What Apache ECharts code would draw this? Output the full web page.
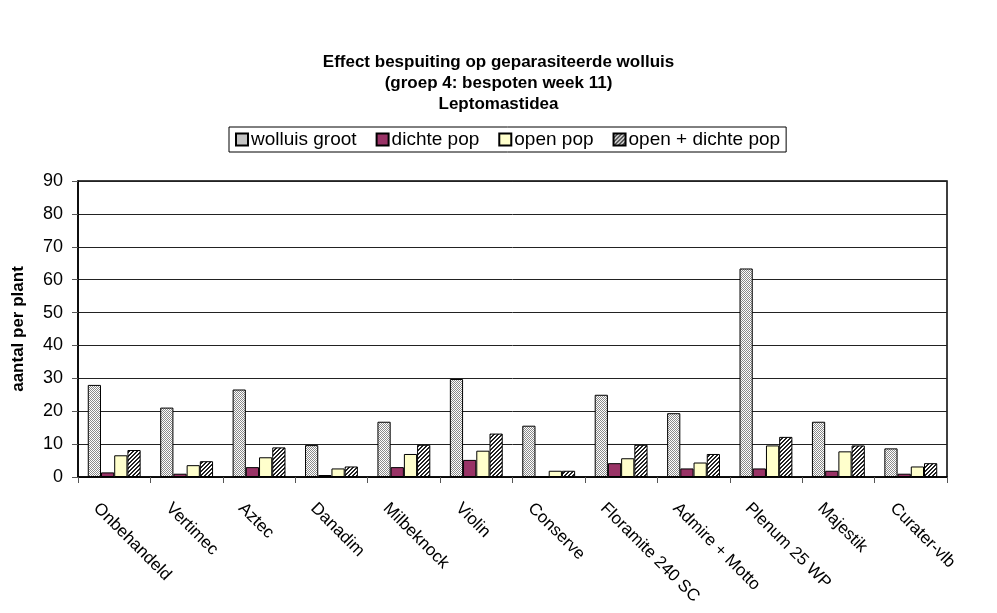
<!DOCTYPE html>
<html>
<head>
<meta charset="utf-8">
<script src="https://cdn.jsdelivr.net/npm/echarts@6/dist/echarts.min.js"></script>
<style>
  html, body { margin: 0; padding: 0; background: #fff; }
  #main { width: 997px; height: 613px; }
</style>
</head>
<body>
<div id="main"></div>
<script>
var categories = ['Onbehandeld', 'Vertimec', 'Aztec', 'Danadim', 'Milbeknock', 'Violin',
  'Conserve', 'Floramite 240 SC', 'Admire + Motto', 'Plenum 25 WP', 'Majestik', 'Curater-vlb'];
var seriesNames = ['wolluis groot', 'dichte pop', 'open pop', 'open + dichte pop'];
var wolluisGroot = [28, 21.1, 26.6, 9.7, 16.8, 29.8, 15.6, 25.0, 19.4, 63.4, 16.8, 8.7];
var dichtePop = [1.4, 1.0, 3.0, 0.6, 3.0, 5.2, 0, 4.2, 2.6, 2.6, 1.9, 1.0];
var openPop = [6.6, 3.6, 6.0, 2.6, 7.0, 8.0, 1.9, 5.7, 4.4, 9.6, 7.8, 3.2];
var openDichtePop = [8.2, 4.8, 9.0, 3.2, 9.8, 13.2, 1.9, 9.8, 7.0, 12.2, 9.6, 4.2];
var yTicks = [0, 10, 20, 30, 40, 50, 60, 70, 80, 90];

// small canvas patterns, like the old excel fills
function stipple() {
  var c = document.createElement('canvas');
  c.width = 4; c.height = 4;
  var ctx = c.getContext('2d');
  ctx.fillStyle = '#ffffff';
  ctx.fillRect(0, 0, 4, 4);
  ctx.fillStyle = '#8a8a8a';
  for (var y = 0; y < 4; y++) {
    for (var x = 0; x < 4; x++) {
      if ((x + y) % 2 === 0) ctx.fillRect(x, y, 1, 1);
    }
  }
  return c;
}
function hatch() {
  var c = document.createElement('canvas');
  c.width = 4; c.height = 4;
  var ctx = c.getContext('2d');
  ctx.fillStyle = '#ffffff';
  ctx.fillRect(0, 0, 4, 4);
  ctx.fillStyle = '#222222';
  for (var i = 0; i < 4; i++) {
    ctx.fillRect((3 - i), i, 1, 1);
    ctx.fillRect((3 - i + 1) % 4, i, 1, 1);
  }
  return c;
}

var fills = [
  { image: stipple(), repeat: 'repeat' },
  '#993366',
  '#ffffcc',
  { image: hatch(), repeat: 'repeat' }
];
var values = [wolluisGroot, dichtePop, openPop, openDichtePop];
var font = 'Liberation Sans, Arial, sans-serif';

var myChart = echarts.init(document.getElementById('main'));

var series = seriesNames.map(function (name, i) {
  return {
    name: name,
    type: 'bar',
    data: values[i],
    barGap: 0,
    barCategoryGap: '27%',
    itemStyle: { color: fills[i], borderColor: '#000', borderWidth: 1 }
  };
});

var option = {
  backgroundColor: '#fff',
  animation: false,
  title: {
    text: 'Effect bespuiting op geparasiteerde wolluis\n(groep 4: bespoten week 11)\nLeptomastidea',
    left: 'center',
    top: 47,
    textStyle: {
      fontFamily: font,
      fontSize: 17,
      fontWeight: 'bold',
      color: '#000',
      lineHeight: 21
    }
  },
  legend: {
    data: seriesNames,
    top: 127,
    left: 229,
    padding: [3, 6, 3, 6],
    itemGap: 19,
    itemWidth: 12,
    itemHeight: 12,
    borderColor: '#000',
    borderWidth: 1,
    borderRadius: 0,
    icon: 'rect',
    textStyle: {
      fontFamily: font,
      fontSize: 19,
      color: '#000',
      padding: [0, 0, 0, -2]
    }
  },
  grid: {
    left: 78,
    right: 50,
    top: 181,
    bottom: 136,
    show: true,
    borderColor: '#000',
    borderWidth: 1.5,
    containLabel: false
  },
  xAxis: {
    type: 'category',
    data: categories,
    axisLine: { lineStyle: { color: '#000', width: 1.5 } },
    axisTick: { show: true, length: 6, alignWithLabel: false, lineStyle: { color: '#555' } },
    axisLabel: {
      rotate: -45,
      interval: 0,
      margin: 22,
      verticalAlign: 'top',
      padding: [9, 0, 0, -8],
      fontFamily: font,
      fontSize: 17,
      color: '#000'
    }
  },
  yAxis: {
    type: 'value',
    min: yTicks[0],
    max: yTicks[yTicks.length - 1],
    interval: 10,
    name: 'aantal per plant',
    nameLocation: 'middle',
    nameGap: 51,
    nameTextStyle: {
      fontFamily: font,
      fontSize: 17,
      fontWeight: 'bold',
      color: '#000'
    },
    axisLine: { show: true, lineStyle: { color: '#000', width: 1.5 } },
    axisTick: { show: true, length: 6, lineStyle: { color: '#555' } },
    axisLabel: {
      fontFamily: font,
      fontSize: 18,
      color: '#000',
      margin: 15
    },
    splitLine: { lineStyle: { color: '#222', width: 1 } }
  },
  series: series
};

myChart.setOption(option);
</script>
</body>
</html>
